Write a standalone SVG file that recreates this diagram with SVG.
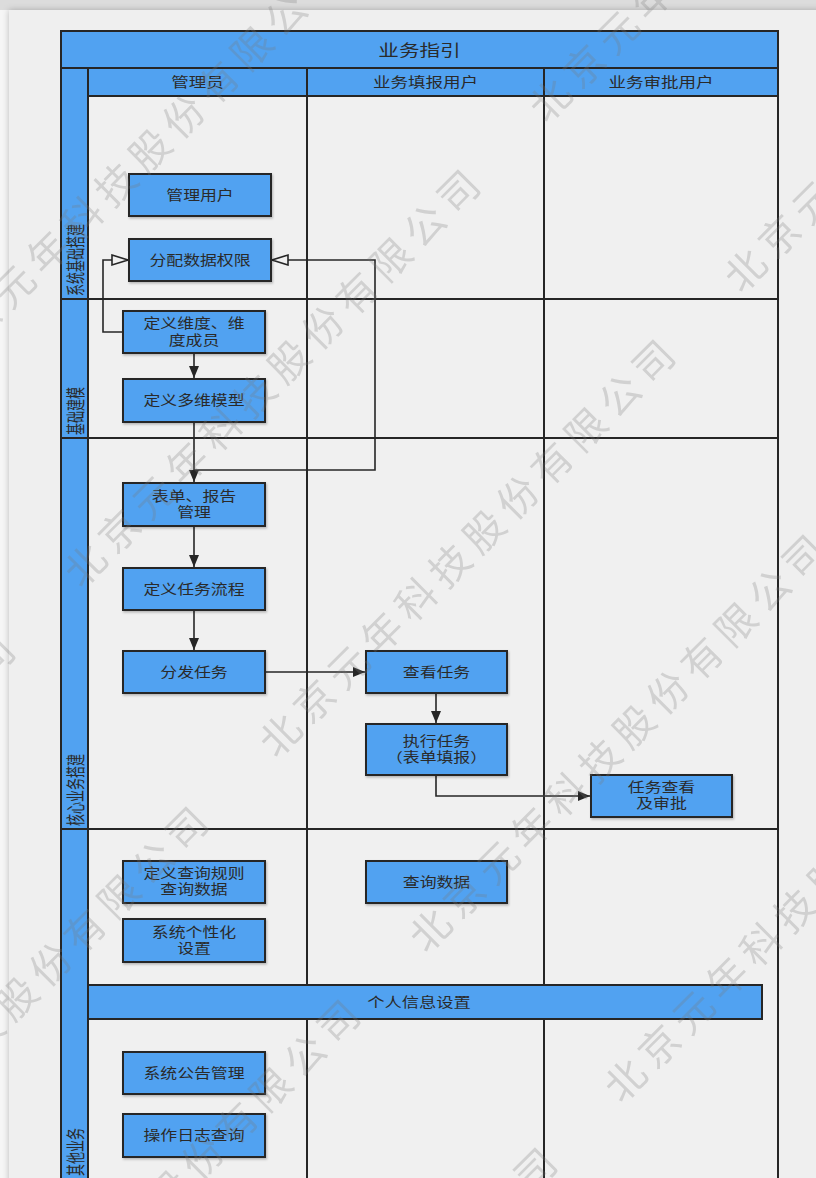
<svg xmlns="http://www.w3.org/2000/svg" width="816" height="1178" viewBox="0 0 816 1178">
<defs>
<style>
.page{fill:#efefef}
.blue{fill:#51a2f1;stroke:#262626;stroke-width:2}
.ln{stroke:#262626;stroke-width:2;fill:none}
.node rect{fill:#51a2f1;stroke:#262626;stroke-width:2;filter:url(#sh)}
.txt{font-family:"Noto Sans CJK SC","Noto Sans",sans-serif;font-size:13.5px;fill:#2a2a2a;text-anchor:middle}
.ttl{font-size:15.5px}
.vl{font-family:"Noto Sans CJK SC","Noto Sans",sans-serif;font-size:12px;fill:#2a2a2a;text-anchor:start;dominant-baseline:central}
.con{stroke:#262626;stroke-width:1.6;fill:none}
.wm{font-family:"Noto Sans CJK SC","Noto Sans",sans-serif;font-size:40px;fill:#7a7a7a;opacity:0.26;letter-spacing:8px}
</style>
<filter id="sh" x="-10%" y="-10%" width="130%" height="140%">
<feDropShadow dx="1" dy="1.5" stdDeviation="1" flood-color="#000" flood-opacity="0.25"/>
</filter>
<filter id="pg" x="-5%" y="-5%" width="110%" height="110%">
<feDropShadow dx="0" dy="0" stdDeviation="3" flood-color="#000" flood-opacity="0.25"/>
</filter>
<marker id="fa" viewBox="0 0 12 10" refX="12" refY="5" markerWidth="12" markerHeight="10" markerUnits="userSpaceOnUse" orient="auto">
<path d="M0,0 L12,5 L0,10 z" fill="#262626"/>
</marker>
<marker id="ha" viewBox="-2 -2 20 14" refX="16" refY="5" markerWidth="20" markerHeight="14" markerUnits="userSpaceOnUse" orient="auto">
<path d="M0,0 L16,5 L0,10 z" fill="#f0f0f0" stroke="#262626" stroke-width="1.6"/>
</marker>
</defs>

<rect x="0" y="0" width="816" height="1178" fill="#f6f6f6"/>
<rect x="0" y="0" width="816" height="10" fill="#dcdcdc"/>
<rect class="page" x="9" y="10" width="820" height="1200" filter="url(#pg)"/>

<g id="lanes">
<rect x="61" y="31" width="717" height="1160" fill="#f0f0f0" stroke="#262626" stroke-width="2"/>
<rect class="blue" x="61" y="31" width="717" height="37"/>
<rect class="blue" x="61" y="68" width="27" height="1125"/>
<rect class="blue" x="88" y="68" width="219" height="28"/>
<rect class="blue" x="307" y="68" width="237" height="28"/>
<rect class="blue" x="544" y="68" width="234" height="28"/>
<line class="ln" x1="307" y1="96" x2="307" y2="1190"/>
<line class="ln" x1="544" y1="96" x2="544" y2="1190"/>
<line class="ln" x1="61" y1="299" x2="778" y2="299"/>
<line class="ln" x1="61" y1="438" x2="778" y2="438"/>
<line class="ln" x1="61" y1="829" x2="778" y2="829"/>
<line class="ln" x1="778" y1="31" x2="778" y2="1190"/>
<text class="txt ttl" transform="translate(419.5,55.5) scale(1.33,1)">业务指引</text>
<text class="txt" transform="translate(197.5,87.3) scale(1.3,1)">管理员</text>
<text class="txt" transform="translate(425.5,87.3) scale(1.3,1)">业务填报用户</text>
<text class="txt" transform="translate(661,87.3) scale(1.3,1)">业务审批用户</text>
<text class="vl" transform="translate(74.5,296) scale(1.6,1) rotate(-90)">系统基础搭建</text>
<text class="vl" transform="translate(74.5,435) scale(1.6,1) rotate(-90)">基础建模</text>
<text class="vl" transform="translate(74.5,826) scale(1.6,1) rotate(-90)">核心业务搭建</text>
<text class="vl" transform="translate(74.5,1176) scale(1.6,1) rotate(-90)">其他业务</text>
</g>

<g id="bar-personal">
<rect class="blue" x="88" y="985" width="674" height="34"/>
<text class="txt" transform="translate(419,1006.8) scale(1.28,1)">个人信息设置</text>
</g>

<g id="connectors">
<path class="con" d="M123,332 H103 V260 H128" marker-end="url(#ha)"/>
<path class="con" d="M194,353 V378" marker-end="url(#fa)"/>
<path class="con" d="M194,422 V482" marker-end="url(#fa)"/>
<path class="con" d="M194,470 H375 V260 H272" marker-end="url(#ha)"/>
<path class="con" d="M194,526 V567" marker-end="url(#fa)"/>
<path class="con" d="M194,610 V650" marker-end="url(#fa)"/>
<path class="con" d="M265,672 H365" marker-end="url(#fa)"/>
<path class="con" d="M436,693 V723" marker-end="url(#fa)"/>
<path class="con" d="M436,775 V796 H590" marker-end="url(#fa)"/>
</g>

<g id="n1" class="node"><rect x="129" y="174" width="142" height="42"/><text class="txt" transform="translate(200,199.8) scale(1.25,1)">管理用户</text></g>
<g id="n2" class="node"><rect x="129" y="239" width="142" height="42"/><text class="txt" transform="translate(200,264.8) scale(1.25,1)">分配数据权限</text></g>
<g id="n3" class="node"><rect x="123" y="311" width="142" height="42"/><text class="txt" transform="translate(194,0) scale(1.25,1)"><tspan x="0" y="328.5">定义维度、维</tspan><tspan x="0" y="345">度成员</tspan></text></g>
<g id="n4" class="node"><rect x="123" y="379" width="142" height="43"/><text class="txt" transform="translate(194,405.3) scale(1.25,1)">定义多维模型</text></g>
<g id="n5" class="node"><rect x="123" y="483" width="142" height="43"/><text class="txt" transform="translate(194,0) scale(1.25,1)"><tspan x="0" y="501.5">表单、报告</tspan><tspan x="0" y="517.5">管理</tspan></text></g>
<g id="n6" class="node"><rect x="123" y="568" width="142" height="42"/><text class="txt" transform="translate(194,593.8) scale(1.25,1)">定义任务流程</text></g>
<g id="n7" class="node"><rect x="123" y="651" width="142" height="42"/><text class="txt" transform="translate(194,676.8) scale(1.25,1)">分发任务</text></g>
<g id="n8" class="node"><rect x="366" y="651" width="141" height="42"/><text class="txt" transform="translate(436.5,676.8) scale(1.25,1)">查看任务</text></g>
<g id="n9" class="node"><rect x="366" y="724" width="141" height="51"/><text class="txt" transform="translate(436.5,0) scale(1.25,1)"><tspan x="0" y="746.5">执行任务</tspan><tspan x="0" y="762.5">（表单填报）</tspan></text></g>
<g id="n10" class="node"><rect x="591" y="775" width="141" height="42"/><text class="txt" transform="translate(661.5,0) scale(1.25,1)"><tspan x="0" y="792.5">任务查看</tspan><tspan x="0" y="808.5">及审批</tspan></text></g>
<g id="n11" class="node"><rect x="123" y="861" width="142" height="42"/><text class="txt" transform="translate(194,0) scale(1.25,1)"><tspan x="0" y="878.5">定义查询规则</tspan><tspan x="0" y="894.5">查询数据</tspan></text></g>
<g id="n12" class="node"><rect x="123" y="919" width="142" height="43"/><text class="txt" transform="translate(194,0) scale(1.25,1)"><tspan x="0" y="937.5">系统个性化</tspan><tspan x="0" y="953.5">设置</tspan></text></g>
<g id="n13" class="node"><rect x="366" y="861" width="141" height="42"/><text class="txt" transform="translate(436.5,886.8) scale(1.25,1)">查询数据</text></g>
<g id="n14" class="node"><rect x="123" y="1052" width="142" height="42"/><text class="txt" transform="translate(194,1077.8) scale(1.25,1)">系统公告管理</text></g>
<g id="n15" class="node"><rect x="123" y="1114" width="142" height="43"/><text class="txt" transform="translate(194,1140.3) scale(1.25,1)">操作日志查询</text></g>

<g id="watermark">
<text class="wm" transform="translate(-57.5,378.7) rotate(-45)">北京元年科技股份有限公司</text>
<text class="wm" transform="translate(81.5,589.7) rotate(-45)">北京元年科技股份有限公司</text>
<text class="wm" transform="translate(546.5,124.7) rotate(-45)">北京元年科技股份有限公司</text>
<text class="wm" transform="translate(-383.5,1054.7) rotate(-45)">北京元年科技股份有限公司</text>
<text class="wm" transform="translate(-190.5,1226.7) rotate(-45)">北京元年科技股份有限公司</text>
<text class="wm" transform="translate(276.5,759.7) rotate(-45)">北京元年科技股份有限公司</text>
<text class="wm" transform="translate(741.5,294.7) rotate(-45)">北京元年科技股份有限公司</text>
<text class="wm" transform="translate(-38.5,1419.7) rotate(-45)">北京元年科技股份有限公司</text>
<text class="wm" transform="translate(426.5,954.7) rotate(-45)">北京元年科技股份有限公司</text>
<text class="wm" transform="translate(158.5,1567.7) rotate(-45)">北京元年科技股份有限公司</text>
<text class="wm" transform="translate(621.5,1104.7) rotate(-45)">北京元年科技股份有限公司</text>
</g>
</svg>
